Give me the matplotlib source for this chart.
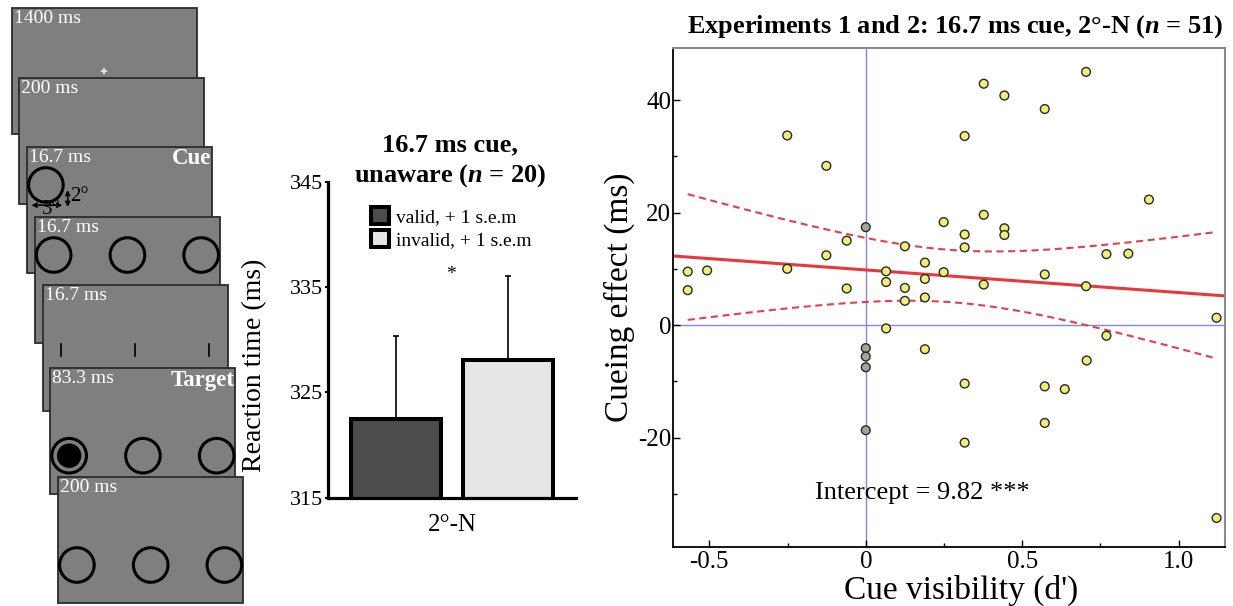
import matplotlib
matplotlib.use("Agg")
import matplotlib.pyplot as plt
from matplotlib.patches import Rectangle, Circle, FancyArrowPatch
from matplotlib.ticker import MultipleLocator
import numpy as np

plt.rcParams["font.family"] = "Liberation Serif"
plt.rcParams["axes.unicode_minus"] = False
plt.rcParams["mathtext.fontset"] = "custom"
plt.rcParams["mathtext.it"] = "Liberation Serif:italic:bold"
plt.rcParams["mathtext.rm"] = "Liberation Serif:bold"

# trial sequence
screen_times = ["1400 ms", "200 ms", "16.7 ms", "16.7 ms", "16.7 ms", "83.3 ms", "200 ms"]
screen_events = ["", "", "Cue", "", "", "Target", ""]
screen_content = ["fix", "blank", "cue", "placeholders", "ticks", "target", "placeholders_low"]

# bar chart (RT, ms)
conditions = ["valid, + 1 s.e.m", "invalid, + 1 s.e.m"]
rt_mean = [322.5, 328.1]
rt_sem = [7.85, 7.95]
bar_colors = ["#4d4d4d", "#e6e6e6"]
bar_group = "2°-N"

# scatter: cue visibility (d') vs cueing effect (ms)
visibility = [-0.569, -0.569, -0.507, -0.251, -0.251, -0.126, -0.126, -0.061, -0.061,
              0.0, 0.0, 0.0, 0.0, 0.0,
              0.065, 0.065, 0.065, 0.125, 0.125, 0.125, 0.189, 0.189, 0.189, 0.189,
              0.249, 0.249, 0.316, 0.316, 0.316, 0.316, 0.316, 0.377, 0.377, 0.377,
              0.443, 0.443, 0.443, 0.572, 0.572, 0.572, 0.572, 0.636, 0.704, 0.704,
              0.706, 0.769, 0.769, 0.839, 0.905, 1.121, 1.121]
cueing = [9.5, 6.2, 9.7, 33.7, 10.0, 28.3, 12.4, 15.0, 6.5,
          17.4, -4.1, -5.6, -7.5, -18.7,
          9.55, 7.65, -0.6, 14.0, 6.6, 4.3, 11.1, 8.2, 4.9, -4.3,
          18.3, 9.4, 33.6, 16.1, 13.8, -10.4, -20.9, 42.9, 19.6, 7.2,
          40.8, 17.2, 16.0, 38.4, 9.0, -10.9, -17.4, -11.4, 45.0, 6.9,
          -6.3, 12.6, -1.9, 12.7, 22.3, 1.3, -34.3]

W, H = 1233, 606
fig = plt.figure(figsize=(W / 100, H / 100), dpi=100)


def fpos(x0, y0, x1, y1):
    # pixel box (top-left origin) -> figure fraction rect
    return [x0 / W, 1 - y1 / H, (x1 - x0) / W, (y1 - y0) / H]


# ---- left: trial sequence diagram, drawn in pixel units ----
ad = fig.add_axes([0, 0, 1, 1])
ad.set_xlim(0, W)
ad.set_ylim(H, 0)
ad.axis("off")

sw, sh = 185, 126
screen_tops = [8.3, 77.7, 146.7, 216.7, 285.0, 368.3, 477.3]
for i, (t, ev, kind) in enumerate(zip(screen_times, screen_events, screen_content)):
    x0 = 11.7 + 7.75 * i
    y0 = screen_tops[i]
    z = 10 * (i + 1)
    ad.add_patch(Rectangle((x0, y0), sw, sh, facecolor="#7f7f7f", edgecolor="#2b2b2b",
                           lw=1.3, zorder=z))
    ad.text(x0 + 2, y0 + 2, t, color="white", fontsize=14, ha="left", va="top", zorder=z + 3)
    if ev:
        ad.text(x0 + sw - 1, y0 + 1.5, ev, color="white", fontsize=16.5, fontweight="bold",
                ha="right", va="top", zorder=z + 3)
    cx = [x0 + 18.7, x0 + 92.5, x0 + 166.2]
    if kind == "fix":
        ad.plot(x0 + 92.3, y0 + 63, marker="+", ms=5, mew=1.5, color="#e0e0e0", zorder=z + 1)
    elif kind == "cue":
        ad.add_patch(Circle((cx[0], y0 + 38.3), 17.3, fill=False, ec="black", lw=2.2, zorder=z + 1))
        ad.add_patch(FancyArrowPatch((x0 + 1.5, y0 + 58.5), (x0 + 38, y0 + 58.5), arrowstyle="<->",
                                     mutation_scale=7, lw=1.2, color="black", zorder=z + 2))
        ad.add_patch(FancyArrowPatch((x0 + 40.5, y0 + 40.5), (x0 + 40.5, y0 + 63), arrowstyle="<->",
                                     mutation_scale=7, lw=1.2, color="black", zorder=z + 2))
        ad.text(x0 + 24, y0 + 63, "3°", fontsize=15, ha="center", va="center", zorder=z + 2)
        ad.text(x0 + 52, y0 + 50, "2°", fontsize=15, ha="center", va="center", zorder=z + 2)
    elif kind == "placeholders":
        for c in cx:
            ad.add_patch(Circle((c, y0 + 38.3), 17.3, fill=False, ec="black", lw=2.2, zorder=z + 1))
    elif kind == "ticks":
        for c in cx:
            ad.plot([c, c], [y0 + 59.3, y0 + 71], color="black", lw=1.2, zorder=z + 1)
    elif kind == "target":
        for c in cx:
            ad.add_patch(Circle((c, y0 + 87.4), 17.3, fill=False, ec="black", lw=2.2, zorder=z + 1))
        ad.add_patch(Circle((cx[0], y0 + 87.4), 11.5, fc="black", ec="black", lw=1, zorder=z + 2))
    elif kind == "placeholders_low":
        for c in cx:
            ad.add_patch(Circle((c, y0 + 87.7), 17.3, fill=False, ec="black", lw=2.2, zorder=z + 1))

# ---- middle: bar chart ----
ab = fig.add_axes(fpos(328.3, 181.7, 576, 497.7))
xb = np.arange(len(rt_mean))
bars = ab.bar(xb, rt_mean, width=0.8, color=bar_colors, edgecolor="black", lw=2.9,
              label=conditions, zorder=2)
ab.errorbar(xb, rt_mean, yerr=[np.zeros(len(rt_sem)), rt_sem], fmt="none", ecolor="black",
            elinewidth=1.2, capsize=2, capthick=1.2, zorder=3)
ab.set_xlim(-0.6, 1.6)
ab.set_ylim(315, 345)
ab.set_yticks([315, 325, 335, 345])
ab.set_xticks([0.5])
ab.set_xticklabels([bar_group])
ab.tick_params(axis="x", length=0, pad=12, labelsize=18)
ab.tick_params(axis="y", direction="out", length=2.5, width=1.5, pad=1.5, labelsize=16)
for s in ["top", "right"]:
    ab.spines[s].set_visible(False)
ab.spines["left"].set_linewidth(2.3)
ab.spines["bottom"].set_linewidth(2.3)
ab.set_ylabel("Reaction time (ms)", fontsize=20)
ab.yaxis.set_label_coords(-0.245, 0.42)
ab.text(0.486, 336.2, "*", fontsize=14, ha="center", va="center")
ab.legend(handles=list(bars), labels=conditions, loc="upper left",
          bbox_to_anchor=(371 / W, 1 - 207 / H), bbox_transform=fig.transFigure,
          frameon=False, fontsize=14, handlelength=0.95, handleheight=0.95,
          handletextpad=0.35, labelspacing=0.2, borderpad=0, borderaxespad=0)
fig.text(450 / W, 1 - 161 / H, "16.7 ms cue,\nunaware ($n$ = 20)", fontsize=19,
         fontweight="bold", ha="center", va="center", linespacing=1.3)

# ---- right: scatter with regression ----
ax = fig.add_axes(fpos(672.7, 47.7, 1225, 546.7))
xv = np.array(visibility)
yv = np.array(cueing)
ax.set_xlim(-0.617, 1.148)
ax.set_ylim(-39.4, 49.3)
ax.axhline(0, color="#8585e6", lw=1, zorder=1)
ax.axvline(0, color="#8585e6", lw=1, zorder=1)

slope, icpt = np.polyfit(xv, yv, 1)
xl = np.array(ax.get_xlim())
ax.plot(xl, icpt + slope * xl, color="#e8383c", lw=2.2, zorder=2)
n = len(xv)
resid = yv - (icpt + slope * xv)
s_err = np.sqrt(np.sum(resid ** 2) / (n - 2))
xs = np.linspace(xv.min(), xv.max(), 100)
half = 2.0096 * s_err * np.sqrt(1 / n + (xs - xv.mean()) ** 2 / np.sum((xv - xv.mean()) ** 2))
fit = icpt + slope * xs
for band in (fit + half, fit - half):
    ax.plot(xs, band, color="#e3404c", lw=1.5, ls=(0, (3.4, 2.2)), zorder=2)

face = np.where(xv == 0, "#a3a596", "#eeee78")
ax.scatter(xv, yv, s=40, c=list(face), edgecolors="#2a2a2a", linewidths=1.0, zorder=3)

ax.set_xticks([-0.5, 0, 0.5, 1.0])
ax.set_xticklabels(["-0.5", "0", "0.5", "1.0"])
ax.set_yticks([-20, 0, 20, 40])
ax.xaxis.set_minor_locator(MultipleLocator(0.25))
ax.yaxis.set_minor_locator(MultipleLocator(10))
ax.tick_params(which="major", direction="in", length=5, width=1, labelsize=18, pad=3,
               top=False, right=False)
ax.tick_params(which="minor", direction="in", length=3, width=1, top=False, right=False)
ax.tick_params(axis="y", pad=1)
ax.spines["left"].set_linewidth(1.3)
ax.spines["bottom"].set_linewidth(1.3)
for s in ["top", "right"]:
    ax.spines[s].set_color("#8c8c8c")
    ax.spines[s].set_linewidth(1.5)
ax.set_xlabel("Cue visibility (d')", fontsize=24)
ax.xaxis.set_label_coords(0.522, -0.056)
ax.set_ylabel("Cueing effect (ms)", fontsize=24, labelpad=2)
ax.text(-0.162, -29.9, "Intercept = %.2f ***" % 9.82, fontsize=19, ha="left", va="center")
fig.text(955 / W, 1 - 27 / H, "Experiments 1 and 2: 16.7 ms cue, 2°-N ($n$ = 51)",
         fontsize=19, fontweight="bold", ha="center", va="center")

fig.savefig("out.png", dpi=100)
